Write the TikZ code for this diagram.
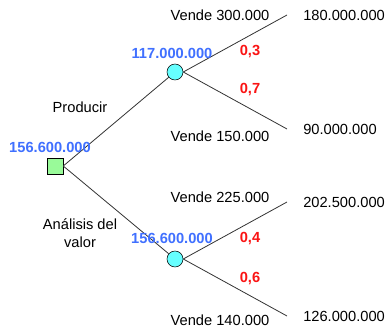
\documentclass[tikz,border=0pt]{standalone}
\usepackage{fontspec}
\setmainfont{Liberation Sans}
\usepackage{xcolor}
\usepackage{tikz}
\usetikzlibrary{positioning}
\definecolor{valblue}{RGB}{64,112,255}
\definecolor{probred}{RGB}{250,20,20}
\definecolor{chancecyan}{RGB}{102,255,255}
\definecolor{decgreen}{RGB}{153,250,153}

\begin{document}
\begin{tikzpicture}[x=0.75pt, y=-0.75pt, font=\fontsize{11}{13.5}\selectfont,
    decision/.style={draw, fill=decgreen, minimum size=12pt, inner sep=0pt},
    chance/.style={draw, circle, fill=chancecyan, minimum size=12pt, inner sep=0pt},
    value/.style={text=valblue, font=\fontsize{11}{13.5}\selectfont\bfseries},
    prob/.style={text=probred, font=\fontsize{11}{13.5}\selectfont\bfseries},
    payoff/.style={inner sep=0pt},
    branch/.style={draw=black!80, semithick}]
  \useasboundingbox (0,0) rectangle (385,331);

  % nodes of the tree
  \node[decision] (root) at (55,166) {};
  \node[chance] (up) at (175,72) {};
  \node[chance] (low) at (175,259) {};
  \coordinate (e1) at (287,15);
  \coordinate (e2) at (287,129);
  \coordinate (e3) at (287,202);
  \coordinate (e4) at (287,316);

  % branches
  \draw[branch] (root.east) -- (up);
  \draw[branch] (root.east) -- (low);
  \draw[branch] (up.east) -- (e1);
  \draw[branch] (up.east) -- (e2);
  \draw[branch] (low.east) -- (e3);
  \draw[branch] (low.east) -- (e4);

  % payoffs
  \node[payoff, right=12pt of e1] (p1) {180.000.000};
  \node[payoff, right=12pt of e2] (p2) {90.000.000};
  \node[payoff, right=12pt of e3] (p3) {202.500.000};
  \node[payoff, right=12pt of e4] (p4) {126.000.000};

  % expected values
  \node[value] (vroot) at (50,147) {156.600.000};
  \node[value] (vup) at (172,53) {117.000.000};
  \node[value] (vlow) at (172,238) {156.600.000};

  % probabilities
  \node[prob] (q1) at (250,52) {0,3};
  \node[prob] (q2) at (250,90) {0,7};
  \node[prob] (q3) at (250,239) {0,4};
  \node[prob] (q4) at (250,279) {0,6};

  % branch labels
  \node (s1) at (220,15) {Vende 300.000};
  \node (s2) at (220,136) {Vende 150.000};
  \node (s3) at (220,197) {Vende 225.000};
  \node (s4) at (220,320) {Vende 140.000};
  \node (a1) at (80,107) {Producir};
  \node[align=center] (a2) at (80,233) {Análisis del\\valor};
\end{tikzpicture}
\end{document}
